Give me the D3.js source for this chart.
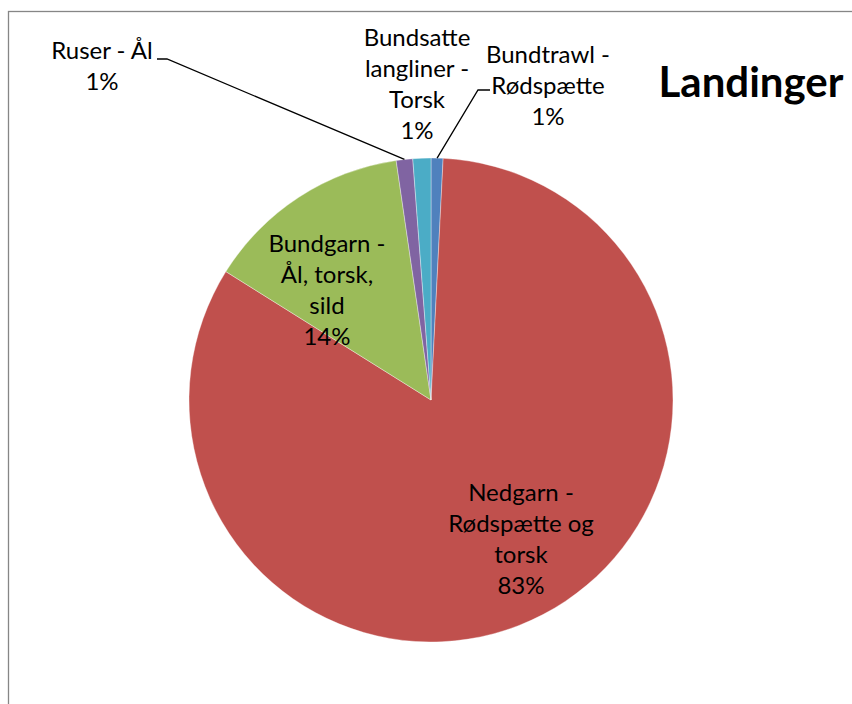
<!DOCTYPE html>
<html><head><meta charset="utf-8">
<script src="https://cdn.jsdelivr.net/npm/d3@7/dist/d3.min.js"></script>
<style>body{margin:0;background:#fff}svg{display:block}</style>
</head><body>
<svg id="c" width="852" height="704"></svg>
<script>
const categories = ["Bundtrawl - Rødspætte", "Nedgarn - Rødspætte og torsk", "Bundgarn - Ål, torsk, sild", "Ruser - Ål", "Bundsatte langliner - Torsk"];
const values = [0.8, 83.1, 13.8, 1.1, 1.2];
const colors = ["#4F81BD", "#C0504D", "#9BBB59", "#8064A2", "#4BACC6"];
const labelLines = [["Bundtrawl -", "Rødspætte", "1%"], ["Nedgarn -", "Rødspætte og", "torsk", "83%"], ["Bundgarn -", "Ål, torsk,", "sild", "14%"], ["Ruser - Ål", "1%"], ["Bundsatte", "langliner -", "Torsk", "1%"]];
const title = "Landinger";

const W = 852, H = 704;
const cx = 431, cy = 400, R = 242;
const lineH = 31;
// label layout: centre x, first baseline y, leader start
const labelPos = [
  {x: 548, y: 63, lead: [478, 90, 490, 90]},
  {x: 521, y: 501},
  {x: 327, y: 252},
  {x: 102, y: 59, lead: [167, 59, 157, 59]},
  {x: 417, y: 46}
];

const svg = d3.select("#c");
svg.append("rect").attr("x", 8.5).attr("y", 11.5).attr("width", W + 20).attr("height", H + 20)
  .attr("fill", "#fff").attr("stroke", "#868686").attr("stroke-width", 1.3);

const pie = d3.pie().sort(null).value(d => d).startAngle(0).endAngle(2 * Math.PI);
const arcs = pie(values);
const arc = d3.arc().innerRadius(0).outerRadius(R);
const g = svg.append("g").attr("transform", `translate(${cx},${cy})`);
g.selectAll("path").data(arcs).join("path")
  .attr("d", arc).attr("fill", (d, i) => colors[i])
  .attr("stroke", "#ffffff").attr("stroke-width", 0.6).attr("stroke-opacity", 0.6);

// leader lines
arcs.forEach((a, i) => {
  const lp = labelPos[i];
  if (!lp.lead) return;
  const m = (a.startAngle + a.endAngle) / 2;
  const ex = cx + R * Math.sin(m), ey = cy - R * Math.cos(m);
  svg.append("path")
    .attr("d", `M${lp.lead[2]},${lp.lead[3]}L${lp.lead[0]},${lp.lead[1]}L${ex},${ey}`)
    .attr("fill", "none").attr("stroke", "#000").attr("stroke-width", 1.3);
});

// labels
labelLines.forEach((lines, i) => {
  const lp = labelPos[i];
  const t = svg.append("text").attr("text-anchor", "middle")
    .attr("font-family", "Lato, 'Open Sans', sans-serif").attr("font-size", 24).attr("fill", "#000");
  lines.forEach((s, k) => {
    t.append("tspan").attr("x", lp.x).attr("y", lp.y + k * lineH).text(s);
  });
});

svg.append("text").attr("x", 751).attr("y", 97).attr("text-anchor", "middle")
  .attr("font-family", "Lato, 'Open Sans', sans-serif").attr("font-weight", "bold")
  .attr("font-size", 42).attr("fill", "#000").text(title);
</script>
</body></html>
